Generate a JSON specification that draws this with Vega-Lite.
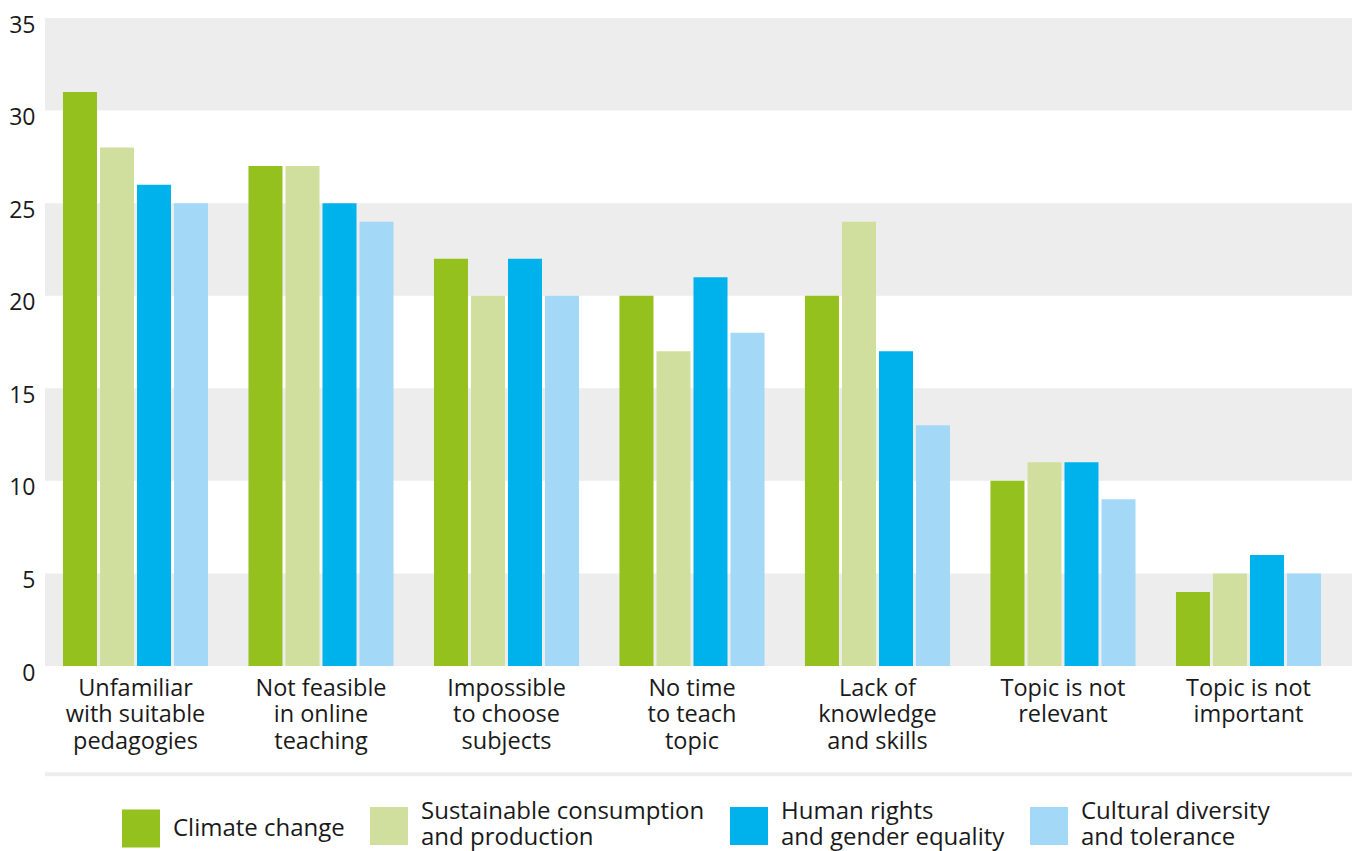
{
  "$schema": "https://vega.github.io/schema/vega-lite/v6.json",
  "autosize": {"type": "none"},
  "width": 1307,
  "height": 648,
  "padding": {"left": 45, "top": 18, "right": 2, "bottom": 185},
  "background": "#ffffff",
  "config": {
    "view": {"stroke": null},
    "font": "Open Sans",
    "text": {"font": "Open Sans"}
  },
  "datasets": {
    "bars": [
      {"barrier": "Unfamiliar with suitable pedagogies", "topic": "Climate change", "value": 31},
      {"barrier": "Unfamiliar with suitable pedagogies", "topic": "Sustainable consumption and production", "value": 28},
      {"barrier": "Unfamiliar with suitable pedagogies", "topic": "Human rights and gender equality", "value": 26},
      {"barrier": "Unfamiliar with suitable pedagogies", "topic": "Cultural diversity and tolerance", "value": 25},
      {"barrier": "Not feasible in online teaching", "topic": "Climate change", "value": 27},
      {"barrier": "Not feasible in online teaching", "topic": "Sustainable consumption and production", "value": 27},
      {"barrier": "Not feasible in online teaching", "topic": "Human rights and gender equality", "value": 25},
      {"barrier": "Not feasible in online teaching", "topic": "Cultural diversity and tolerance", "value": 24},
      {"barrier": "Impossible to choose subjects", "topic": "Climate change", "value": 22},
      {"barrier": "Impossible to choose subjects", "topic": "Sustainable consumption and production", "value": 20},
      {"barrier": "Impossible to choose subjects", "topic": "Human rights and gender equality", "value": 22},
      {"barrier": "Impossible to choose subjects", "topic": "Cultural diversity and tolerance", "value": 20},
      {"barrier": "No time to teach topic", "topic": "Climate change", "value": 20},
      {"barrier": "No time to teach topic", "topic": "Sustainable consumption and production", "value": 17},
      {"barrier": "No time to teach topic", "topic": "Human rights and gender equality", "value": 21},
      {"barrier": "No time to teach topic", "topic": "Cultural diversity and tolerance", "value": 18},
      {"barrier": "Lack of knowledge and skills", "topic": "Climate change", "value": 20},
      {"barrier": "Lack of knowledge and skills", "topic": "Sustainable consumption and production", "value": 24},
      {"barrier": "Lack of knowledge and skills", "topic": "Human rights and gender equality", "value": 17},
      {"barrier": "Lack of knowledge and skills", "topic": "Cultural diversity and tolerance", "value": 13},
      {"barrier": "Topic is not relevant", "topic": "Climate change", "value": 10},
      {"barrier": "Topic is not relevant", "topic": "Sustainable consumption and production", "value": 11},
      {"barrier": "Topic is not relevant", "topic": "Human rights and gender equality", "value": 11},
      {"barrier": "Topic is not relevant", "topic": "Cultural diversity and tolerance", "value": 9},
      {"barrier": "Topic is not important", "topic": "Climate change", "value": 4},
      {"barrier": "Topic is not important", "topic": "Sustainable consumption and production", "value": 5},
      {"barrier": "Topic is not important", "topic": "Human rights and gender equality", "value": 6},
      {"barrier": "Topic is not important", "topic": "Cultural diversity and tolerance", "value": 5}
    ],
    "bands": [
      {"lo": 0, "hi": 5},
      {"lo": 10, "hi": 15},
      {"lo": 20, "hi": 25},
      {"lo": 30, "hi": 35}
    ],
    "separator": [
      {"level": -5.85}
    ]
  },
  "layer": [
    {
      "data": {"name": "bands"},
      "mark": {"type": "rect", "color": "#EDEDED"},
      "encoding": {
        "y": {"field": "lo", "type": "quantitative", "scale": {"domain": [0, 35], "nice": false, "zero": true}},
        "y2": {"field": "hi"}
      }
    },
    {
      "data": {"name": "separator"},
      "mark": {"type": "rule", "color": "#EDEDED", "strokeWidth": 4, "clip": false},
      "encoding": {
        "y": {"field": "level", "type": "quantitative"}
      }
    },
    {
      "data": {"name": "bars"},
      "mark": {"type": "bar"},
      "encoding": {
        "x": {
          "field": "barrier",
          "type": "nominal",
          "sort": null,
          "scale": {"paddingInner": 0.218, "paddingOuter": 0.132, "align": 0.367},
          "axis": {
            "title": null,
            "domain": false,
            "ticks": false,
            "labelAngle": 0,
            "labelFontSize": 23.5,
            "labelColor": "#1a1a1a",
            "labelFont": "Open Sans",
            "labelPadding": 10,
            "labelLineHeight": 26.5,
            "labelLimit": 400,
            "labelExpr": "datum.label == 'Unfamiliar with suitable pedagogies' ? ['Unfamiliar', 'with suitable', 'pedagogies'] : datum.label == 'Not feasible in online teaching' ? ['Not feasible', 'in online', 'teaching'] : datum.label == 'Impossible to choose subjects' ? ['Impossible', 'to choose', 'subjects'] : datum.label == 'No time to teach topic' ? ['No time', 'to teach', 'topic'] : datum.label == 'Lack of knowledge and skills' ? ['Lack of', 'knowledge', 'and skills'] : datum.label == 'Topic is not relevant' ? ['Topic is not', 'relevant'] : ['Topic is not', 'important']"
          }
        },
        "xOffset": {
          "field": "topic",
          "type": "nominal",
          "sort": ["Climate change", "Sustainable consumption and production", "Human rights and gender equality", "Cultural diversity and tolerance"],
          "scale": {"paddingInner": 0.081, "paddingOuter": 0}
        },
        "y": {
          "field": "value",
          "type": "quantitative",
          "scale": {"domain": [0, 35], "nice": false},
          "axis": {
            "title": null,
            "values": [0, 5, 10, 15, 20, 25, 30, 35],
            "domain": false,
            "ticks": false,
            "grid": false,
            "labelFontSize": 23,
            "labelColor": "#1a1a1a",
            "labelFont": "Open Sans",
            "labelPadding": 10,
            "labelOffset": 7
          }
        },
        "color": {
          "field": "topic",
          "type": "nominal",
          "scale": {
            "domain": ["Climate change", "Sustainable consumption and production", "Human rights and gender equality", "Cultural diversity and tolerance"],
            "range": ["#95C11F", "#D0DF9D", "#00B2EB", "#A3D8F6"]
          },
          "legend": {
            "title": null,
            "orient": "none",
            "direction": "horizontal",
            "legendX": 77,
            "legendY": 789,
            "symbolType": "square",
            "symbolSize": 1444,
            "symbolStrokeWidth": 0,
            "symbolOpacity": 1,
            "labelFontSize": 24,
            "labelFont": "Open Sans",
            "labelColor": "#1a1a1a",
            "labelLimit": 500,
            "labelOffset": 13,
            "labelLineHeight": 27,
            "columnPadding": 25,
            "labelExpr": "datum.label == 'Sustainable consumption and production' ? ['Sustainable consumption', 'and production'] : datum.label == 'Human rights and gender equality' ? ['Human rights', 'and gender equality'] : datum.label == 'Cultural diversity and tolerance' ? ['Cultural diversity', 'and tolerance'] : datum.label",
            "encode": {
              "labels": {
                "update": {
                  "dy": {"signal": "datum.value == 'Climate change' ? 0 : -14"}
                }
              }
            }
          }
        }
      }
    }
  ],
  "resolve": {"scale": {"y": "shared"}}
}
